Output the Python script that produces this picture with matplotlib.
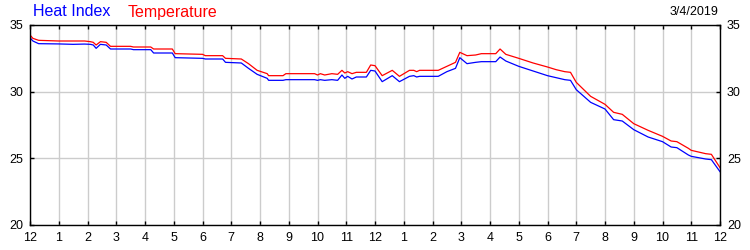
import matplotlib.pyplot as plt
import numpy as np

plt.rcParams['font.family'] = ['Liberation Sans', 'DejaVu Sans']

# hours since midnight 3/4/2019
hours = [0.0, 0.1, 0.3, 1.0, 1.5, 1.9, 2.1, 2.2, 2.3, 2.45, 2.65, 2.8, 3.5, 3.6,
         4.2, 4.3, 4.95, 5.05, 6.0, 6.1, 6.7, 6.8, 7.35, 7.6, 7.9, 8.25, 8.3,
         8.8, 8.9, 9.9, 10.0, 10.1, 10.25, 10.5, 10.7, 10.85, 10.95, 11.05,
         11.2, 11.35, 11.7, 11.85, 12.0, 12.25, 12.6, 12.85, 13.2, 13.35,
         13.45, 13.55, 14.2, 14.5, 14.8, 14.95, 15.2, 15.5, 15.7, 16.2, 16.35,
         16.55, 17.0, 17.5, 18.0, 18.3, 18.6, 18.8, 19.0, 19.5, 20.0, 20.3,
         20.6, 21.0, 21.5, 22.0, 22.3, 22.5, 22.9, 23.0, 23.5, 23.7, 24.0]
temperature = [34.25, 34.0, 33.85, 33.8, 33.8, 33.8, 33.75, 33.7, 33.5, 33.75,
               33.7, 33.4, 33.4, 33.35, 33.35, 33.2, 33.2, 32.85, 32.8, 32.7,
               32.7, 32.5, 32.45, 32.1, 31.6, 31.35, 31.2, 31.2, 31.35, 31.35,
               31.25, 31.35, 31.25, 31.35, 31.3, 31.6, 31.4, 31.5, 31.35, 31.45,
               31.45, 32.0, 31.95, 31.2, 31.6, 31.15, 31.6, 31.6, 31.5, 31.6,
               31.6, 31.9, 32.2, 32.95, 32.7, 32.75, 32.85, 32.85, 33.2, 32.8,
               32.5, 32.15, 31.85, 31.65, 31.5, 31.45, 30.7, 29.65, 29.05,
               28.45, 28.3, 27.6, 27.1, 26.65, 26.3, 26.25, 25.75, 25.6, 25.35,
               25.3, 24.3]
heat_index = [34.05, 33.8, 33.6, 33.58, 33.55, 33.57, 33.55, 33.5, 33.25, 33.55,
              33.5, 33.2, 33.2, 33.15, 33.15, 32.9, 32.9, 32.55, 32.5, 32.45,
              32.45, 32.2, 32.15, 31.75, 31.3, 31.0, 30.85, 30.85, 30.9, 30.9,
              30.85, 30.9, 30.85, 30.9, 30.85, 31.25, 31.0, 31.15, 30.95, 31.1,
              31.1, 31.6, 31.55, 30.75, 31.2, 30.75, 31.15, 31.2, 31.1, 31.15,
              31.15, 31.5, 31.75, 32.55, 32.1, 32.2, 32.25, 32.25, 32.6, 32.3,
              31.9, 31.55, 31.2, 31.05, 30.9, 30.85, 30.15, 29.2, 28.7, 27.9,
              27.8, 27.15, 26.6, 26.25, 25.85, 25.8, 25.25, 25.15, 24.95,
              24.9, 24.0]
hour_labels = ['12'] + [str(h) for h in range(1, 12)] + ['12'] + \
              [str(h) for h in range(1, 12)] + ['12']

fig = plt.figure(figsize=(7.5, 2.5), dpi=100)
ax = fig.add_axes([30 / 750, 25 / 250, 690 / 750, 200 / 250])

ax.plot(hours, heat_index, color='#0000ff', lw=0.9)
ax.plot(hours, temperature, color='#ff0000', lw=0.9)

ax.set_xlim(0, 24)
ax.set_ylim(20, 35)
ax.set_xticks(np.arange(25))
ax.set_xticklabels(hour_labels)
ax.set_yticks([20, 25, 30, 35])

ax.grid(True, color='#cccccc', lw=1)
ax.set_axisbelow(True)
for s in ax.spines.values():
    s.set_color('black')
    s.set_linewidth(1)

ax.tick_params(direction='in', length=3, width=1, labelsize=9,
               top=True, right=True, labelright=True, pad=5)

fig.text(33 / 750, 1 - 12 / 250, 'Heat Index', color='#0000ff', fontsize=11.5,
         ha='left', va='center')
fig.text(128 / 750, 1 - 12 / 250, 'Temperature', color='#ff0000', fontsize=11.5,
         ha='left', va='center')
fig.text(718 / 750, 1 - 12 / 250, '3/4/2019', color='black', fontsize=9,
         ha='right', va='center')

fig.savefig('out.png', dpi=100)
